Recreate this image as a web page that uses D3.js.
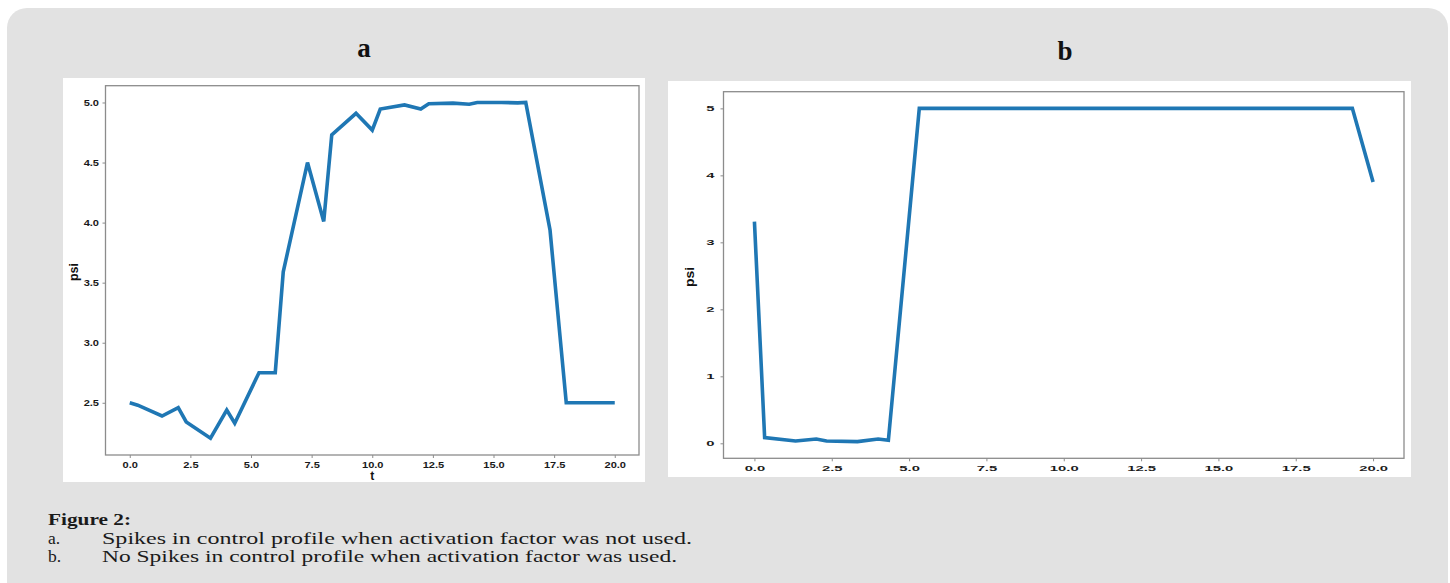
<!DOCTYPE html>
<html>
<head>
<meta charset="utf-8">
<script src="https://cdn.jsdelivr.net/npm/d3@7"></script>
<style>
  html, body { margin: 0; padding: 0; background: #ffffff; }
  svg { display: block; }
</style>
</head>
<body>
<svg id="fig" width="1450" height="583"></svg>
<script>
// ---------------- data ----------------
const tA   = [0, 0.33, 1.33, 2.0, 2.33, 3.33, 4.0, 4.33, 5.33, 6.0, 6.33, 7.33, 8.0, 8.33, 9.33, 10.0, 10.33, 11.33, 12.0, 12.33, 13.33, 14.0, 14.33, 15.33, 16.0, 16.33, 17.33, 18.0, 20.0];
const psiA = [2.50, 2.48, 2.39, 2.46, 2.34, 2.205, 2.44, 2.33, 2.75, 2.75, 3.59, 4.50, 4.01, 4.73, 4.91, 4.77, 4.945, 4.98, 4.945, 4.99, 4.995, 4.985, 5.0, 5.0, 4.997, 5.0, 3.94, 2.50, 2.50];

const tB   = [0, 0.33, 1.33, 2.0, 2.33, 3.33, 4.0, 4.33, 5.33, 19.33, 20.0];
const psiB = [3.31, 0.085, 0.035, 0.065, 0.035, 0.025, 0.065, 0.045, 5.0, 5.0, 3.90];

const xTicks  = [0, 2.5, 5, 7.5, 10, 12.5, 15, 17.5, 20];
const yTicksA = [2.5, 3.0, 3.5, 4.0, 4.5, 5.0];
const yTicksB = [0, 1, 2, 3, 4, 5];

const panelTitles = ["a", "b"];
const captionTitle = "Figure 2:";
const captionItems = [
  ["a.", "Spikes in control profile when activation factor was not used."],
  ["b.", "No Spikes in control profile when activation factor was used."]
];

// ---------------- layout ----------------
const svg = d3.select("#fig");
const LINE = "#1f77b4";
const FRAME = "#8c8c8c";

svg.append("rect").attr("x", 7).attr("y", 8).attr("width", 1441).attr("height", 600)
  .attr("rx", 20).attr("ry", 20).attr("fill", "#e2e2e2");

function pad(ext) { const d = ext[1] - ext[0]; return [ext[0] - 0.05 * d, ext[1] + 0.05 * d]; }

function drawPanel(cfg) {
  const g = svg.append("g");
  const clipId = "clip" + cfg.id;
  svg.append("clipPath").attr("id", clipId).append("rect")
    .attr("x", cfg.panel[0]).attr("y", cfg.panel[1])
    .attr("width", cfg.panel[2]).attr("height", cfg.panel[3]);
  g.append("rect").attr("x", cfg.panel[0]).attr("y", cfg.panel[1])
    .attr("width", cfg.panel[2]).attr("height", cfg.panel[3]).attr("fill", "#ffffff");

  const [L, T, R, B] = cfg.axes;
  const x = d3.scaleLinear().domain(pad(d3.extent(cfg.t))).range([L, R]);
  const y = d3.scaleLinear().domain(pad(d3.extent(cfg.v))).range([B, T]);

  g.append("rect").attr("x", L).attr("y", T).attr("width", R - L).attr("height", B - T)
    .attr("fill", "none").attr("stroke", FRAME).attr("stroke-width", 1.3);

  const xAxis = g.append("g").attr("transform", `translate(0,${B})`)
    .call(d3.axisBottom(x).tickValues(xTicks).tickFormat(d3.format(".1f")).tickSize(3).tickPadding(cfg.xPad));
  const yAxis = g.append("g").attr("transform", `translate(${L},0)`)
    .call(d3.axisLeft(y).tickValues(cfg.yTicks).tickFormat(cfg.yFmt).tickSize(3).tickPadding(cfg.yPad));
  [xAxis, yAxis].forEach(a => {
    a.select(".domain").remove();
    a.selectAll(".tick line").attr("stroke", FRAME).attr("stroke-width", 1);
    a.selectAll(".tick text")
      .attr("font-family", "'Liberation Sans', Arial, sans-serif")
      .attr("font-weight", "bold").attr("font-size", cfg.tickFont).attr("fill", "#1a1a1a")
      .each(function () {
        const w = this.getComputedTextLength();
        d3.select(this).attr("textLength", w * cfg.stretch).attr("lengthAdjust", "spacingAndGlyphs");
      });
  });

  const line = d3.line().x((d, i) => x(cfg.t[i])).y(d => y(d));
  g.append("path").datum(cfg.v).attr("d", line).attr("fill", "none")
    .attr("stroke", LINE).attr("stroke-width", 3.6)
    .attr("stroke-linejoin", "miter").attr("stroke-linecap", "butt");

  g.append("text").attr("transform", `translate(${cfg.psiPos[0]},${cfg.psiPos[1]}) rotate(-90)`)
    .attr("text-anchor", "middle").attr("dominant-baseline", "central")
    .attr("font-family", "'Liberation Sans', Arial, sans-serif").attr("font-size", 13)
    .attr("font-weight", "bold")
    .attr("textLength", cfg.psiLen).attr("lengthAdjust", "spacingAndGlyphs")
    .attr("fill", "#111").text("psi");
  g.append("text").attr("clip-path", `url(#${clipId})`)
    .attr("x", (L + R) / 2).attr("y", cfg.tBase)
    .attr("text-anchor", "middle")
    .attr("font-family", "'Liberation Sans', Arial, sans-serif").attr("font-weight", "bold")
    .attr("font-size", 12).attr("fill", "#111").text("t");

  svg.append("text").attr("x", cfg.titlePos[0]).attr("y", cfg.titlePos[1])
    .attr("text-anchor", "middle").attr("font-family", "'Liberation Serif', 'Times New Roman', serif")
    .attr("font-weight", "bold").attr("font-size", 27).attr("fill", "#111").text(cfg.title);
}

drawPanel({
  id: "A", title: panelTitles[0], titlePos: [364, 57],
  panel: [63, 78, 582, 404], axes: [105.5, 85.7, 639, 455],
  t: tA, v: psiA, yTicks: yTicksA, yFmt: d3.format(".1f"),
  tickFont: 8.2, stretch: 1.35, xPad: 4, yPad: 3.5,
  psiPos: [73, 272], psiLen: 18, tBase: 479.5
});
drawPanel({
  id: "B", title: panelTitles[1], titlePos: [1065, 60],
  panel: [668, 81, 743, 396], axes: [723.5, 91.7, 1404, 458.3],
  t: tB, v: psiB, yTicks: yTicksB, yFmt: d3.format("d"),
  tickFont: 7.6, stretch: 1.95, xPad: 4.5, yPad: 6,
  psiPos: [689, 277], psiLen: 20, tBase: 488
});

// caption
const cap = svg.append("g").attr("font-family", "'Liberation Serif', 'Times New Roman', serif")
  .attr("fill", "#1a1a1a");
cap.append("text").attr("x", 48).attr("y", 525).attr("font-weight", "bold").attr("font-size", 17.5)
  .attr("textLength", 83).attr("lengthAdjust", "spacingAndGlyphs").text(captionTitle);
const capLens = [590, 575];
captionItems.forEach((it, i) => {
  const yb = 543.5 + i * 18.5;
  cap.append("text").attr("x", 48).attr("y", yb).attr("font-size", 17.5).text(it[0]);
  cap.append("text").attr("x", 102).attr("y", yb).attr("font-size", 17.5)
    .attr("textLength", capLens[i]).attr("lengthAdjust", "spacingAndGlyphs").text(it[1]);
});
</script>
</body>
</html>
